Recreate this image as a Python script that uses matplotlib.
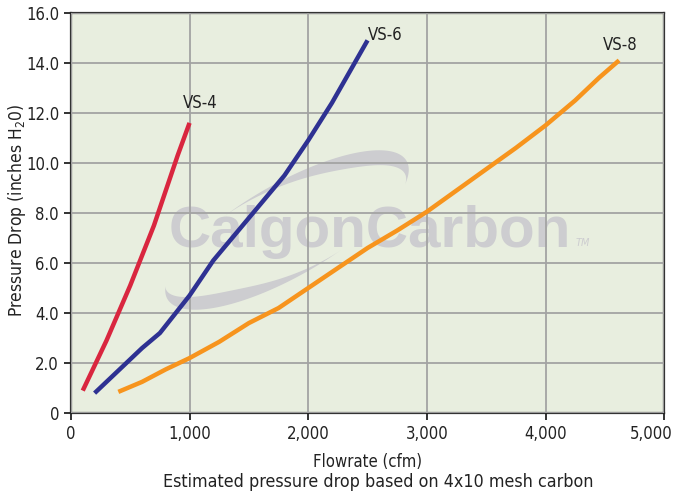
import numpy as np
import matplotlib.pyplot as plt
from matplotlib.patches import Polygon
from matplotlib.ticker import FuncFormatter
from matplotlib.transforms import ScaledTranslation

plt.rcParams['font.family'] = ['DejaVu Sans']
plt.rcParams['font.stretch'] = 'condensed'

# Data
vs4_flow = [100, 200, 300, 400, 500, 600, 700, 800, 900, 1000]
vs4_dp = [0.9, 1.9, 2.9, 4.0, 5.1, 6.3, 7.5, 8.9, 10.3, 11.6]

vs6_flow = [200, 400, 600, 750, 1000, 1200, 1500, 1800, 2000, 2200, 2500]
vs6_dp = [0.8, 1.7, 2.6, 3.2, 4.7, 6.1, 7.8, 9.5, 10.9, 12.4, 14.9]

vs8_flow = [400, 600, 800, 1000, 1250, 1500, 1750, 2000, 2250, 2500, 2750,
            3000, 3250, 3500, 3750, 4000, 4250, 4450, 4620]
vs8_dp = [0.85, 1.25, 1.75, 2.2, 2.85, 3.6, 4.2, 5.0, 5.8, 6.6, 7.3,
          8.05, 8.9, 9.75, 10.6, 11.5, 12.5, 13.4, 14.1]

series_labels = ['VS-4', 'VS-6', 'VS-8']
label_pos = [(1090, 12.4), (2650, 15.1), (4630, 14.7)]
colors = ['#d9263f', '#2e3192', '#f7941d']

x_ticks = [0, 1000, 2000, 3000, 4000, 5000]
y_ticks = [0, 2, 4, 6, 8, 10, 12, 14, 16]

fig = plt.figure(figsize=(6.75, 4.93), dpi=100)
ax = fig.add_axes([0.105, 0.162, 0.879, 0.812])
ax.set_facecolor('#e8eedf')

# watermark logo (text plus two crescent swooshes)
wm = '#cdcdd0'
ax.text(2520, 7.25, 'CalgonCarbon', fontsize=42, fontweight='bold',
        color=wm, ha='center', va='center', zorder=1, fontstretch='normal',
        family=['Liberation Sans', 'DejaVu Sans'])
ax.text(4250, 6.8, 'TM', fontsize=7, color=wm, style='italic',
        ha='left', va='center', zorder=1, fontstretch='normal')


def crescent(t0, t1, width):
    # crescent on a tilted ellipse, built in pixel space then mapped to data
    cx, cy, a, b, rot = 287, 230, 138, 46, np.radians(30)
    t = np.radians(np.linspace(t0, t1, 60))
    taper = np.sin(np.linspace(0, np.pi, 60)) ** 1.5
    pts = []
    for inner in (False, True):
        if inner:
            tt, ss = t[::-1], (1 - width * taper)[::-1]
        else:
            tt, ss = t, np.ones_like(t)
        ex = a * ss * np.cos(tt)
        ey = b * ss * np.sin(tt)
        px = cx + ex * np.cos(rot) - ey * np.sin(rot)
        py = cy - (ex * np.sin(rot) + ey * np.cos(rot))
        pts += list(zip((px - 71) / 118.6 * 1000, (413 - py) / 25))
    return Polygon(pts, closed=True, color=wm, lw=0, zorder=1)


ax.add_patch(crescent(110, -25, 0.22))
ax.add_patch(crescent(285, 165, 0.22))

ax.grid(True, color='#a3a3a3', lw=1.3, zorder=2)
ax.set_axisbelow(False)

for fx, fy, c in zip([vs4_flow, vs6_flow, vs8_flow],
                     [vs4_dp, vs6_dp, vs8_dp], colors):
    ax.plot(fx, fy, color=c, lw=3.2, zorder=3, solid_capstyle='butt')

for lab, (lx, ly) in zip(series_labels, label_pos):
    ax.text(lx, ly, lab, fontsize=12, color='#222222', ha='center',
            va='center', zorder=4)

ax.set_xlim(0, 5000)
ax.set_ylim(0, 16)
ax.set_xticks(x_ticks)
ax.set_yticks(y_ticks)
ax.xaxis.set_major_formatter(FuncFormatter(lambda v, p: f'{int(v):,}'))
ax.yaxis.set_major_formatter(
    FuncFormatter(lambda v, p: '0' if v == 0 else f'{v:.1f}'))
ax.tick_params(axis='both', direction='out', length=5, width=1.3,
               color='#222222', labelsize=12, labelcolor='#222222')

# last x label sits inside the figure edge, as in the original
last = ax.get_xticklabels()[-1]
last.set_horizontalalignment('right')
last.set_transform(last.get_transform() +
                   ScaledTranslation(8 / 100, 0, fig.dpi_scale_trans))

for s in ax.spines.values():
    s.set_color('#333333')
    s.set_linewidth(1.6)

fig.text(368 / 675, 1 - 462 / 493, 'Flowrate (cfm)', fontsize=12,
         color='#222222', ha='center', va='center')
fig.text(378 / 675, 1 - 482 / 493,
         'Estimated pressure drop based on 4x10 mesh carbon', fontsize=12.8,
         color='#222222', ha='center', va='center')
fig.text(17 / 675, 1 - 210 / 493, 'Pressure Drop (inches H$_2$0)',
         fontsize=12.5, color='#222222', ha='center', va='center',
         rotation=90)

fig.savefig('out.png', dpi=100)
